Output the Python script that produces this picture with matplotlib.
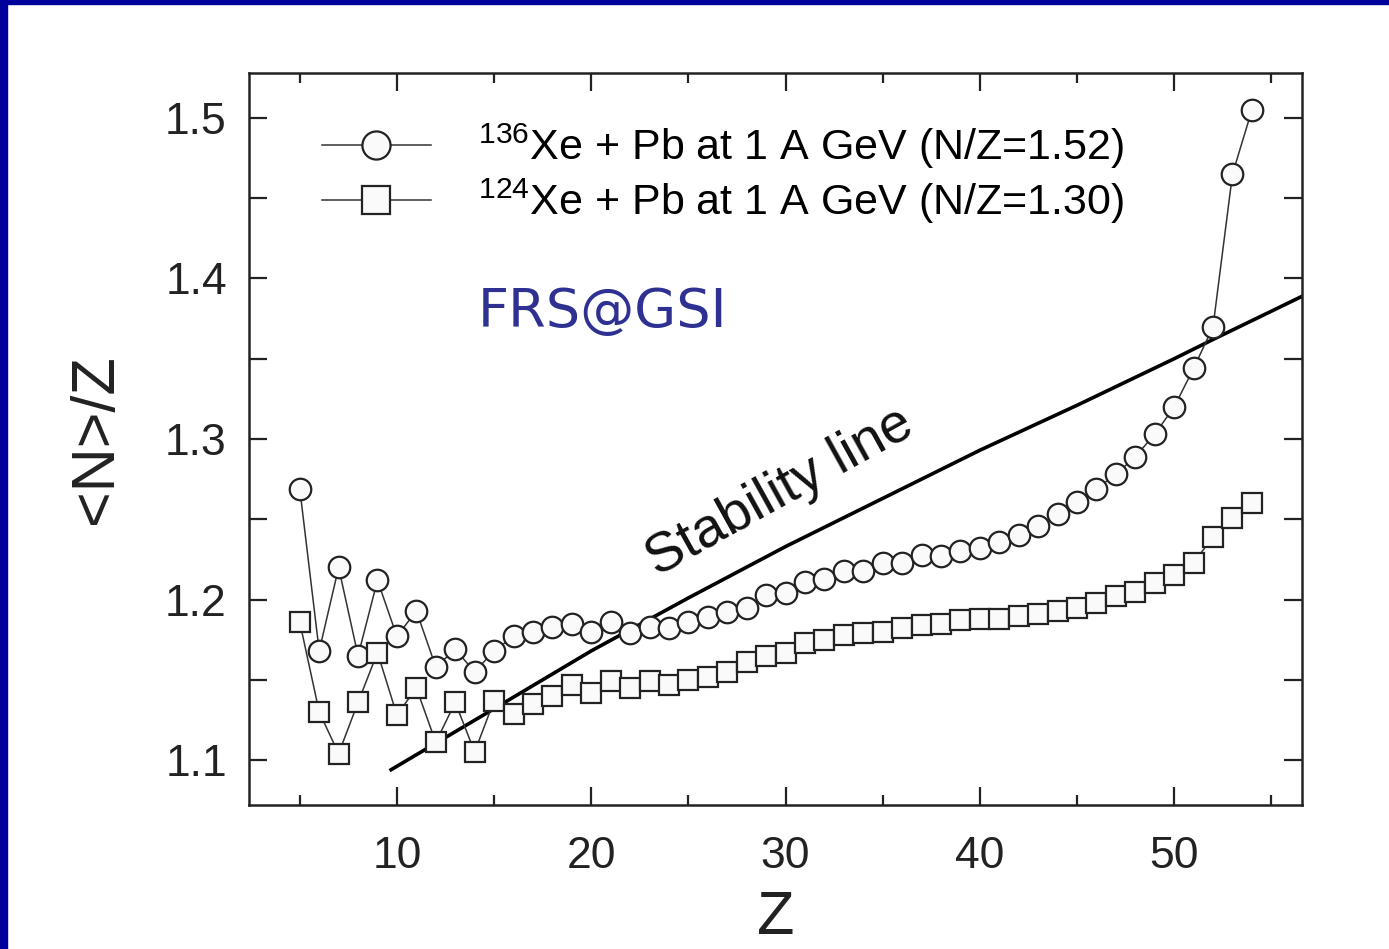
import matplotlib
matplotlib.use('Agg')
import matplotlib.pyplot as plt
from matplotlib.lines import Line2D
from matplotlib.patches import Rectangle
from matplotlib.ticker import MultipleLocator

# mean N/Z of fragments vs Z
z = list(range(5, 55))
xe136 = [1.269, 1.168, 1.220, 1.165, 1.212, 1.177, 1.193, 1.158, 1.169, 1.155,
         1.168, 1.177, 1.180, 1.183, 1.185, 1.180, 1.186, 1.179, 1.183, 1.182,
         1.186, 1.189, 1.192, 1.195, 1.203, 1.204, 1.211, 1.213, 1.218, 1.218,
         1.223, 1.223, 1.228, 1.227, 1.230, 1.232, 1.236, 1.240, 1.246, 1.253,
         1.261, 1.269, 1.278, 1.289, 1.303, 1.320, 1.344, 1.370, 1.465, 1.505]
xe124 = [1.186, 1.130, 1.104, 1.136, 1.167, 1.128, 1.145, 1.111, 1.136, 1.105,
         1.137, 1.129, 1.135, 1.140, 1.147, 1.142, 1.149, 1.145, 1.149, 1.147,
         1.150, 1.152, 1.155, 1.161, 1.165, 1.167, 1.173, 1.175, 1.178, 1.179,
         1.180, 1.182, 1.184, 1.185, 1.187, 1.188, 1.188, 1.190, 1.191, 1.193,
         1.195, 1.198, 1.202, 1.205, 1.210, 1.215, 1.223, 1.239, 1.251, 1.260]

# stability line
stab_z = [9.7, 15, 20, 25, 30, 35, 40, 45, 50, 52, 56.6]
stab_nz = [1.094, 1.132, 1.168, 1.201, 1.233, 1.263, 1.293, 1.321, 1.350, 1.362, 1.389]

labels = [r'$^{136}$Xe + Pb at 1 A GeV (N/Z=1.52)',
          r'$^{124}$Xe + Pb at 1 A GeV (N/Z=1.30)']

plt.rcParams['font.family'] = ['Liberation Sans', 'DejaVu Sans']
plt.rcParams['mathtext.fontset'] = 'custom'
plt.rcParams['mathtext.rm'] = 'Liberation Sans'

fig = plt.figure(figsize=(13.89, 9.49), dpi=100)
ax = fig.add_axes([0.1793, 0.1517, 0.7581, 0.7714])

# blue slide frame
fig.patches.append(Rectangle((0, 0), 7 / 1389, 1, transform=fig.transFigure,
                             color='#00009c', zorder=10))
fig.patches.append(Rectangle((0, 1 - 4 / 949), 1, 4 / 949, transform=fig.transFigure,
                             color='#00009c', zorder=10))

ax.plot(stab_z, stab_nz, color='black', lw=2.6, zorder=2)
ax.plot(z, xe136, marker='o', ms=15.5, mfc='#fafafa', mec='#222222', mew=1.6,
        color='#333333', lw=1.1, zorder=3)
ax.plot(z, xe124, marker='s', ms=15, mfc='#fafafa', mec='#222222', mew=1.6,
        color='#333333', lw=1.1, zorder=3)

ax.set_xlim(2.39, 56.58)
ax.set_ylim(1.072, 1.528)
ax.xaxis.set_major_locator(MultipleLocator(10))
ax.xaxis.set_minor_locator(MultipleLocator(5))
ax.yaxis.set_major_locator(MultipleLocator(0.1))
ax.yaxis.set_minor_locator(MultipleLocator(0.05))
ax.yaxis.set_major_formatter(matplotlib.ticker.FormatStrFormatter('%.1f'))

ax.tick_params(which='both', direction='in', top=True, right=True, width=1.6, color='#222222')
ax.tick_params(axis='x', which='major', length=13, pad=22)
ax.tick_params(axis='x', which='minor', length=7)
ax.tick_params(axis='y', which='both', length=13, pad=16)
for lab in ax.get_xticklabels() + ax.get_yticklabels():
    lab.set_fontsize(32)
    lab.set_color('#222222')
for s in ax.spines.values():
    s.set_linewidth(1.8)
    s.set_color('#222222')

ax.set_xlabel('Z', fontsize=44, labelpad=10, color='#222222')
ax.set_ylabel('<N>/Z', fontsize=44, labelpad=29, color='#222222')

handles = [Line2D([], [], marker='o', ms=15, mfc='#fafafa', mec='#222222', mew=1.6,
                  color='#333333', lw=1.1),
           Line2D([], [], marker='s', ms=15, mfc='#fafafa', mec='#222222', mew=1.6,
                  color='#333333', lw=1.1)]
ax.legend(handles, labels, loc='upper left', bbox_to_anchor=(0.069, 0.933),
          frameon=False, fontsize=31, handlelength=2.53, handletextpad=1.1,
          borderpad=0, borderaxespad=0, labelspacing=0.12, markerscale=1.35)

ax.text(0.2175, 0.653, 'FRS@GSI', transform=ax.transAxes, fontsize=39,
        family='DejaVu Sans', color='#2e3192', va='baseline', ha='left')
ax.text(29.7, 1.267, 'Stability line', fontsize=40, rotation=29,
        rotation_mode='anchor', ha='center', va='center', color='#111111')

fig.savefig('out.png', dpi=100)
